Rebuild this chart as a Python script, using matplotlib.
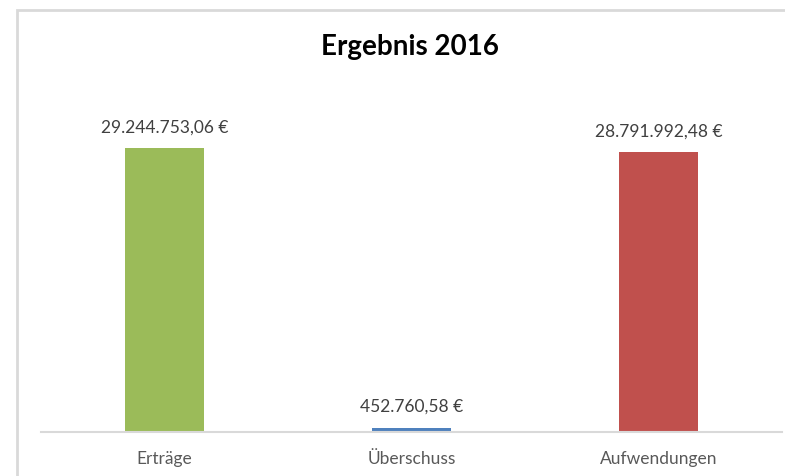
import matplotlib
matplotlib.use("Agg")
import matplotlib.pyplot as plt
from matplotlib.lines import Line2D

categories = ["Erträge", "Überschuss", "Aufwendungen"]
values = [29244753.06, 452760.58, 28791992.48]
value_labels = ["29.244.753,06 €", "452.760,58 €", "28.791.992,48 €"]
colors = ["#9BBB59", "#4F81BD", "#C0504D"]
title = "Ergebnis 2016"

plt.rcParams['font.family'] = ['Lato', 'DejaVu Sans']

W, H = 785, 476
fig = plt.figure(figsize=(W / 100, H / 100), dpi=100)
fig.patch.set_facecolor("white")

# outer frame (chart area border): left and top edges only visible
fx, fy = 17 / W, 1 - 10 / H
frame_ax = fig.add_axes([0, 0, 1, 1], zorder=-5)
frame_ax.set_xlim(0, W)
frame_ax.set_ylim(H, 0)
frame_ax.axis("off")
frame_ax.plot([17, 17, W + 5], [H + 5, 10, 10], color="#D9D9D9", linewidth=2,
              solid_joinstyle="miter", clip_on=False)

ax_left, ax_right = 41, 782
ax_bottom, ax_top = 432, 92
ax = fig.add_axes([ax_left / W, 1 - ax_bottom / H, (ax_right - ax_left) / W, (ax_bottom - ax_top) / H])
ax.patch.set_visible(False)

x = list(range(len(categories)))
bars = ax.bar(x, values, width=0.316, color=colors)
ax.set_xlim(-0.5, len(categories) - 0.5)
ax.set_ylim(0, 35e6)

for xi, v, lab in zip(x, values, value_labels):
    ax.annotate(lab, (xi, v), xytext=(0, 9), textcoords="offset points",
                ha="center", va="bottom", fontsize=12.5, color="#404040")

ax.set_xticks(x)
ax.set_xticklabels(categories, fontsize=12.5, color="#595959")
ax.tick_params(axis="x", length=0, pad=14)
ax.set_yticks([])
for s in ["left", "right", "top"]:
    ax.spines[s].set_visible(False)
ax.spines["bottom"].set_color("#D9D9D9")
ax.spines["bottom"].set_linewidth(1.5)

fig.text(410 / W, 1 - 47 / H, title, ha="center", va="center", fontsize=20, fontweight="bold", color="black")

fig.savefig("out.png", dpi=100, facecolor="white")
